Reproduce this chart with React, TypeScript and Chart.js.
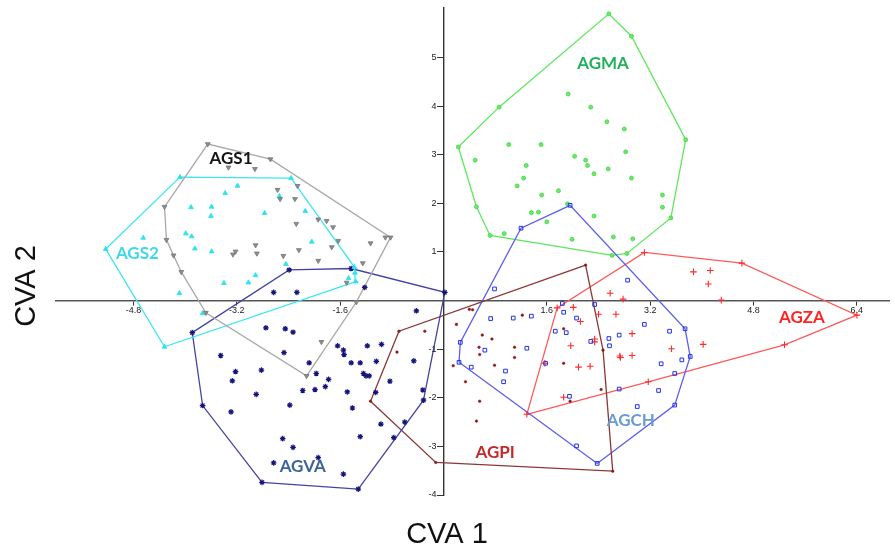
import React, { useEffect, useRef } from 'react';
import { Chart, registerables } from 'chart.js';

Chart.register(...registerables);

// ---- axis ticks ----
const xTicks = [-4.8, -3.2, -1.6, 1.6, 3.2, 4.8, 6.4];
const yTicks = [-4, -3, -2, -1, 1, 2, 3, 4, 5];

// ---- group scores (CVA 1, CVA 2) ----
const ags1X = [-3.65, -2.68, -3.33, -2.92, -2.26, -2.57, -2.30, -2.53, -4.32, -2.28, -1.94, -1.81, -1.71, -4.29, -1.63, -1.73, -1.13, -0.90, -0.82, -2.91, -2.89, -3.22, -3.26, -2.24, -2.48, -1.94, -1.25, -4.18, -4.06, -1.50, -1.35, -3.68, -1.89, -2.12];
const ags1Y = [3.22, 2.91, 2.74, 2.71, 2.36, 2.28, 2.09, 2.09, 1.93, 1.58, 1.67, 1.64, 1.51, 1.25, 1.23, 1.10, 1.18, 1.30, 1.30, 1.14, 0.97, 1.01, 0.95, 1.04, 0.92, 0.82, 0.77, 0.93, 0.59, 0.37, -0.03, -0.25, -0.85, -1.55];

const ags2X = [-4.08, -2.36, -3.19, -3.38, -2.54, -3.91, -3.59, -3.60, -2.77, -2.14, -4.65, -3.99, -3.90, -5.23, -3.85, -3.59, -2.04, -2.44, -2.91, -3.02, -3.40, -4.09, -1.38, -1.37, -1.47, -1.36, -3.73, -4.32];
const ags2Y = [2.54, 2.52, 2.36, 2.21, 2.15, 1.92, 1.93, 1.74, 1.80, 1.84, 1.29, 1.38, 1.32, 1.06, 1.07, 1.01, 1.21, 0.75, 0.52, 0.37, 0.36, 0.15, 0.69, 0.57, 0.46, 0.39, -0.26, -0.95];

const agvaX = [-2.39, -1.43, 0.02, -2.63, -2.27, -1.22, -0.42, -3.89, -2.75, -2.45, -2.33, -3.45, -2.47, -2.08, -1.64, -1.55, -1.54, -1.18, -0.96, -1.43, -1.29, -1.04, -0.46, -3.22, -2.82, -3.27, -1.97, -1.78, -1.24, -1.20, -1.15, -0.83, -1.83, -1.99, -2.18, -1.49, -1.05, -0.32, -0.31, -2.90, -2.38, -1.41, -3.73, -3.29, -0.97, -0.60, -1.29, -0.77, -2.49, -2.33, -1.94, -2.63, -1.55, -2.81, -1.32];
const agvaY = [0.63, 0.66, 0.17, 0.17, 0.17, 0.27, -0.21, -0.66, -0.56, -0.58, -0.65, -1.13, -1.07, -1.28, -0.93, -1.02, -1.11, -0.93, -0.90, -1.28, -1.28, -1.25, -1.24, -1.46, -1.43, -1.65, -1.50, -1.62, -1.50, -1.55, -1.55, -1.66, -1.77, -1.83, -1.85, -1.88, -1.89, -1.84, -2.05, -1.93, -2.15, -2.21, -2.16, -2.29, -2.54, -2.50, -2.80, -2.82, -2.84, -3.02, -3.23, -3.34, -3.57, -3.74, -3.88];

const agpiX = [-0.69, -0.29, -0.72, -1.13, -0.12, 2.20, 2.62, 2.47, 0.40, 0.45, 1.22, 0.20, 0.60, 0.75, 0.55, 0.56, 1.10, 1.10, 0.15, 0.79, 0.34, 0.56, 0.51, 1.86, 1.86, 2.44, 1.96];
const agpiY = [-0.63, -0.63, -1.06, -2.07, -3.33, 0.73, -3.51, -1.02, -0.18, -0.19, -0.30, -0.49, -0.71, -0.79, -0.96, -1.11, -0.96, -1.17, -1.34, -1.33, -1.67, -2.07, -2.48, -0.58, -1.29, -1.83, -2.07];

const agchX = [1.20, 1.96, 3.74, 3.82, 3.58, 2.38, 0.24, 0.26, 0.79, 2.85, 1.84, 2.34, 1.86, 0.73, 1.08, 1.36, 2.06, 3.11, 1.73, 1.90, 3.50, 2.72, 2.56, 2.28, 2.57, 0.64, 1.29, 1.58, 3.69, 3.37, 0.43, 0.96, 3.58, 0.93, 2.72, 3.33, 1.95, 3.00, 2.06];
const agchY = [1.49, 1.96, -0.58, -1.15, -2.15, -3.35, -1.27, -0.86, 0.24, 0.42, -0.06, -0.08, -0.24, -0.37, -0.36, -0.32, -0.36, -0.49, -0.63, -0.66, -0.63, -0.71, -0.78, -0.84, -0.93, -1.02, -0.98, -1.29, -1.22, -1.30, -1.37, -1.45, -1.50, -1.67, -1.82, -1.85, -1.97, -2.18, -2.99];

const agzaX = [3.11, 4.62, 6.40, 5.28, 3.17, 1.29, 1.76, 3.87, 4.13, 4.10, 2.58, 2.78, 4.30, 2.01, 2.40, 2.67, 2.12, 2.92, 2.34, 2.34, 1.97, 3.53, 4.02, 2.73, 2.74, 2.92, 1.57, 2.09, 2.27, 1.86];
const agzaY = [0.99, 0.77, -0.30, -0.91, -1.67, -2.34, -0.15, 0.59, 0.62, 0.34, 0.15, 0.03, 0.01, -0.14, -0.28, -0.28, -0.43, -0.68, -0.79, -0.85, -0.93, -0.99, -0.90, -1.14, -1.17, -1.13, -1.29, -1.37, -1.35, -1.99];

const agmaX = [2.56, 2.91, 3.75, 3.52, 2.84, 2.61, 0.72, 0.51, 0.23, 0.86, 1.93, 2.28, 2.53, 2.80, 1.01, 1.51, 0.49, 2.82, 2.03, 2.20, 2.23, 1.28, 2.33, 2.55, 1.24, 2.91, 1.14, 1.78, 1.52, 3.39, 1.92, 3.39, 1.36, 1.47, 2.33, 1.60, 0.94, 2.63, 2.93, 1.99];
const agmaY = [5.90, 5.44, 3.31, 1.70, 0.97, 0.93, 1.34, 1.93, 3.16, 3.98, 4.25, 3.98, 3.68, 3.53, 3.21, 3.21, 2.89, 3.06, 2.97, 2.89, 2.78, 2.78, 2.61, 2.71, 2.52, 2.52, 2.36, 2.26, 2.17, 2.17, 1.99, 1.92, 1.81, 1.82, 1.74, 1.62, 1.38, 1.31, 1.27, 1.26];

// ---- group labels (placed in data coordinates) ----
const labelNames = ['AGS1', 'AGS2', 'AGVA', 'AGPI', 'AGCH', 'AGZA', 'AGMA'];
const labelX = [-3.29, -4.74, -2.18, 0.80, 2.90, 5.55, 2.47];
const labelY = [2.92, 0.96, -3.42, -3.12, -2.46, -0.35, 4.88];
const labelColors = ['#141414', '#3dd8ec', '#3b6594', '#c42a2a', '#6b9bd1', '#ff2424', '#22b15a'];

type P = { x: number; y: number };

function toPoints(xs: number[], ys: number[]): P[] {
  return xs.map((x, i) => ({ x, y: ys[i] }));
}

function convexHull(pts: P[]): P[] {
  const p = [...pts].sort((a, b) => (a.x === b.x ? a.y - b.y : a.x - b.x));
  const cross = (o: P, a: P, b: P) => (a.x - o.x) * (b.y - o.y) - (a.y - o.y) * (b.x - o.x);
  const lower: P[] = [];
  for (const q of p) {
    while (lower.length >= 2 && cross(lower[lower.length - 2], lower[lower.length - 1], q) <= 0) lower.pop();
    lower.push(q);
  }
  const upper: P[] = [];
  for (let i = p.length - 1; i >= 0; i--) {
    const q = p[i];
    while (upper.length >= 2 && cross(upper[upper.length - 2], upper[upper.length - 1], q) <= 0) upper.pop();
    upper.push(q);
  }
  upper.pop();
  lower.pop();
  const h = lower.concat(upper);
  h.push(h[0]);
  return h;
}

interface GroupStyle {
  name: string;
  xs: number[];
  ys: number[];
  hull: string;
  pointStyle: string;
  rotation: number;
  radius: number;
  bg: string;
  border: string;
  bw: number;
}

const groups: GroupStyle[] = [
  { name: 'AGS1', xs: ags1X, ys: ags1Y, hull: '#a9a9a9', pointStyle: 'triangle', rotation: 180, radius: 2.8, bg: '#8e8e8e', border: '#767676', bw: 0.8 },
  { name: 'AGS2', xs: ags2X, ys: ags2Y, hull: '#3ee6f4', pointStyle: 'triangle', rotation: 0, radius: 2.8, bg: '#2fe2f0', border: '#2fe2f0', bw: 0.8 },
  { name: 'AGVA', xs: agvaX, ys: agvaY, hull: '#4444a4', pointStyle: 'star', rotation: 0, radius: 2.8, bg: '#10106e', border: '#14147a', bw: 1.2 },
  { name: 'AGPI', xs: agpiX, ys: agpiY, hull: '#8c3636', pointStyle: 'circle', rotation: 0, radius: 1.3, bg: '#8b1a1a', border: '#8b1a1a', bw: 0.5 },
  { name: 'AGCH', xs: agchX, ys: agchY, hull: '#5c5cf2', pointStyle: 'rect', rotation: 0, radius: 2.6, bg: 'rgba(255,255,255,0)', border: '#2233e6', bw: 1 },
  { name: 'AGZA', xs: agzaX, ys: agzaY, hull: '#ff5a5a', pointStyle: 'cross', rotation: 0, radius: 3.3, bg: '#ff2a2a', border: '#ff2a2a', bw: 1.1 },
  { name: 'AGMA', xs: agmaX, ys: agmaY, hull: '#5ee85e', pointStyle: 'circle', rotation: 0, radius: 2, bg: '#6de86d', border: '#44d844', bw: 0.8 },
];

const textPlugin = {
  id: 'cvaTexts',
  afterDatasetsDraw(chart: any) {
    const { ctx, scales } = chart;
    const sx = scales.x;
    const sy = scales.y;
    ctx.save();
    // y tick labels, to the left of the tick marks
    const axisX = sx.getPixelForValue(0);
    ctx.fillStyle = '#222';
    ctx.font = '9px "Liberation Sans", Arial, sans-serif';
    ctx.textAlign = 'right';
    ctx.textBaseline = 'middle';
    yTicks.forEach((v) => {
      ctx.fillText(String(v), axisX - 7, sy.getPixelForValue(v));
    });
    // group labels
    ctx.textAlign = 'center';
    ctx.font = 'bold 17px Lato, "Open Sans", sans-serif';
    labelNames.forEach((n, i) => {
      ctx.fillStyle = labelColors[i];
      ctx.fillText(n, sx.getPixelForValue(labelX[i]), sy.getPixelForValue(labelY[i]));
    });
    // axis titles
    ctx.fillStyle = '#111';
    ctx.font = '29px "Liberation Sans", Arial, sans-serif';
    ctx.textBaseline = 'alphabetic';
    ctx.fillText('CVA 1', 447, 543);
    ctx.translate(35, 286);
    ctx.rotate(-Math.PI / 2);
    ctx.fillText('CVA 2', 0, 0);
    ctx.restore();
  },
};

export default function App() {
  const ref = useRef<HTMLCanvasElement | null>(null);

  useEffect(() => {
    if (!ref.current) return;
    const datasets: any[] = [];
    groups.forEach((g) => {
      const pts = toPoints(g.xs, g.ys);
      datasets.push({
        label: g.name,
        data: pts,
        order: 0,
        pointStyle: g.pointStyle,
        rotation: g.rotation,
        pointRadius: g.radius,
        pointBackgroundColor: g.bg,
        pointBorderColor: g.border,
        pointBorderWidth: g.bw,
        showLine: false,
      });
      datasets.push({
        label: g.name + ' hull',
        data: convexHull(pts),
        order: 1,
        showLine: true,
        pointRadius: 0,
        borderColor: g.hull,
        borderWidth: 1.3,
        fill: false,
        tension: 0,
      });
    });

    const chart = new Chart(ref.current, {
      type: 'scatter',
      data: { datasets },
      options: {
        animation: false,
        responsive: true,
        maintainAspectRatio: false,
        layout: { padding: { left: 56, right: 0, top: 8, bottom: 54 } },
        plugins: { legend: { display: false }, tooltip: { enabled: false } },
        scales: {
          x: {
            type: 'linear',
            min: -6,
            max: 6.91,
            position: { y: 0 } as any,
            border: { color: '#555', width: 1.6 },
            grid: { drawOnChartArea: false, drawTicks: true, tickLength: 4, color: '#333' },
            afterBuildTicks: (s: any) => {
              s.ticks = xTicks.map((v) => ({ value: v }));
            },
            ticks: {
              autoSkip: false,
              maxRotation: 0,
              padding: 1,
              color: '#222',
              font: { size: 9, family: '"Liberation Sans", Arial, sans-serif' },
              callback: (v: any) => Number(v).toFixed(1),
            },
          },
          y: {
            type: 'linear',
            min: -4,
            max: 6.02,
            position: { x: 0 } as any,
            border: { color: '#333', width: 1.4 },
            grid: { drawOnChartArea: false, drawTicks: true, tickLength: 6, color: '#333' },
            afterBuildTicks: (s: any) => {
              s.ticks = yTicks.map((v) => ({ value: v }));
            },
            ticks: {
              display: false,
              autoSkip: false,
            },
          },
        },
      },
      plugins: [textPlugin],
    });
    return () => chart.destroy();
  }, []);

  return (
    <div style={{ position: 'fixed', left: 0, top: 0, width: 895, height: 549, background: '#fff' }}>
      <canvas ref={ref} />
    </div>
  );
}
